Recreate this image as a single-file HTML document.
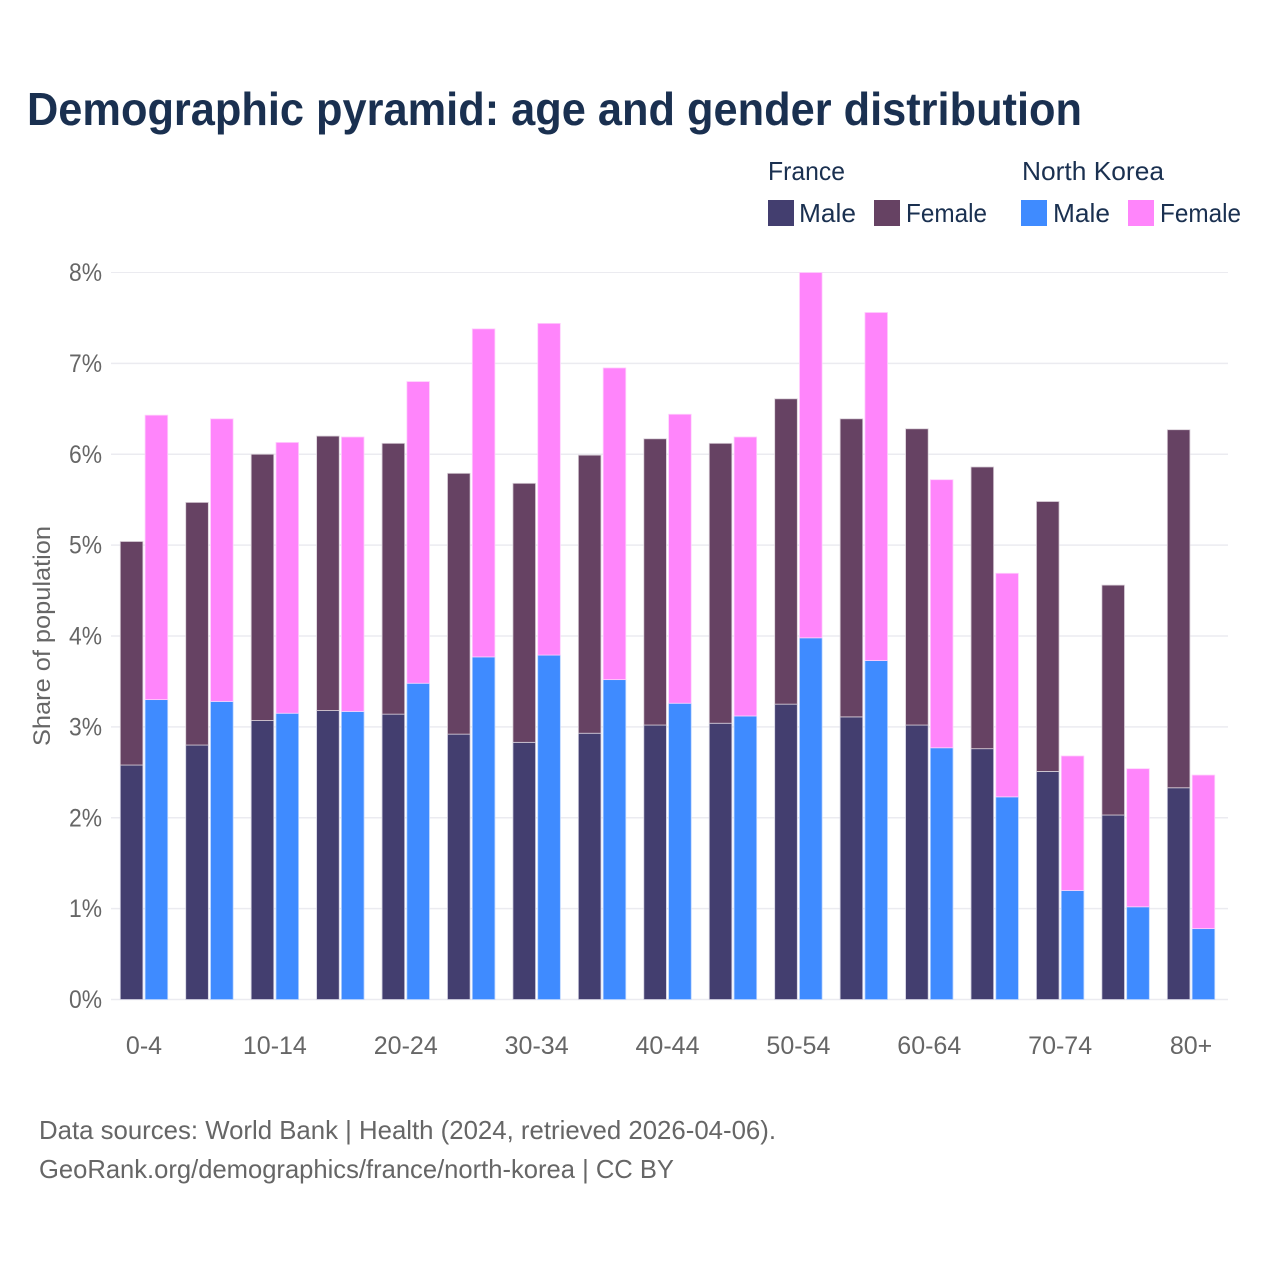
<!DOCTYPE html>
<html lang="en">
<head>
<meta charset="utf-8">
<title>Demographic pyramid: age and gender distribution</title>
<style>
html,body{margin:0;padding:0;background:#fff;width:1280px;height:1280px;overflow:hidden}
svg{display:block}
text{font-family:"Liberation Sans",sans-serif}
</style>
</head>
<body>
<svg id="chart" xmlns="http://www.w3.org/2000/svg" width="1280" height="1280" viewBox="0 0 1280 1280">
  <rect width="1280" height="1280" fill="#fff"/>
  <text x="27" y="125" font-size="46" font-weight="700" fill="#1a3050" textLength="1055" lengthAdjust="spacingAndGlyphs">Demographic pyramid: age and gender distribution</text>

  <g font-size="26" fill="#1a3050">
    <text x="768" y="180" textLength="77" lengthAdjust="spacingAndGlyphs">France</text>
    <rect x="768" y="200" width="26" height="26" fill="#433e6f"/>
    <text x="799" y="222" textLength="57" lengthAdjust="spacingAndGlyphs">Male</text>
    <rect x="874" y="200" width="26" height="26" fill="#664263"/>
    <text x="906" y="222" textLength="81" lengthAdjust="spacingAndGlyphs">Female</text>
    <text x="1022" y="180" textLength="142" lengthAdjust="spacingAndGlyphs">North Korea</text>
    <rect x="1021" y="200" width="26" height="26" fill="#3f8bff"/>
    <text x="1053" y="222" textLength="57" lengthAdjust="spacingAndGlyphs">Male</text>
    <rect x="1128" y="200" width="26" height="26" fill="#ff85fb"/>
    <text x="1160" y="222" textLength="81" lengthAdjust="spacingAndGlyphs">Female</text>
  </g>

  <g id="grid"></g>
  <g id="bars"></g>
  <g id="y-ticks"></g>
  <g id="x-ticks"></g>

  <text transform="translate(50,636) rotate(-90)" text-anchor="middle" font-size="24" fill="#666" textLength="220" lengthAdjust="spacingAndGlyphs">Share of population</text>

  <text x="39" y="1139" font-size="26" fill="#666" textLength="737" lengthAdjust="spacingAndGlyphs">Data sources: World Bank | Health (2024, retrieved 2026-04-06).</text>
  <text x="39" y="1178" font-size="26" fill="#666" textLength="635" lengthAdjust="spacingAndGlyphs">GeoRank.org/demographics/france/north-korea | CC BY</text>
</svg>
<script>
const categories = ["0-4","5-9","10-14","15-19","20-24","25-29","30-34","35-39","40-44","45-49","50-54","55-59","60-64","65-69","70-74","75-79","80+"];
const xTickLabels = ["0-4","10-14","20-24","30-34","40-44","50-54","60-64","70-74","80+"];
const yTicks = [0,1,2,3,4,5,6,7,8];
const franceMale = [2.58,2.80,3.07,3.18,3.14,2.92,2.83,2.93,3.02,3.04,3.25,3.11,3.02,2.76,2.51,2.03,2.33];
const franceFemale = [2.46,2.67,2.93,3.02,2.98,2.87,2.85,3.06,3.15,3.08,3.36,3.28,3.26,3.10,2.97,2.53,3.94];
const northKoreaMale = [3.30,3.28,3.15,3.17,3.48,3.77,3.79,3.52,3.26,3.12,3.98,3.73,2.77,2.23,1.20,1.02,0.78];
const northKoreaFemale = [3.13,3.11,2.98,3.02,3.32,3.61,3.65,3.43,3.18,3.07,4.02,3.83,2.95,2.46,1.48,1.52,1.69];

const NS = "http://www.w3.org/2000/svg";
const plotLeft = 111, plotRight = 1228, plotBottom = 999.5, plotTop = 272.5;
const yMax = 8;
const firstCenter = 144, groupStep = 65.44, barWidth = 22.6, barOffset = 24.8;

function yScale(v) { return plotBottom - (v / yMax) * (plotBottom - plotTop); }
function xScale(i) { return firstCenter + i * groupStep; }
function make(tag, attrs, parent) {
  const el = document.createElementNS(NS, tag);
  for (const k in attrs) el.setAttribute(k, attrs[k]);
  parent.appendChild(el);
  return el;
}

const gridG = document.getElementById("grid");
const yG = document.getElementById("y-ticks");
yTicks.forEach(function (t) {
  const line = make("line", {x1: plotLeft, x2: plotRight, y1: yScale(t), y2: yScale(t), stroke: "#ebebf0", "stroke-width": t === yMax ? 1 : 1.5}, gridG);
  
  
  const label = make("text", {x: 102, y: yScale(t) + 8.5, "text-anchor": "end", "font-size": 25, fill: "#666", textLength: 33, lengthAdjust: "spacingAndGlyphs"}, yG);
  label.textContent = t + "%";
  
  
});

const xG = document.getElementById("x-ticks");
categories.forEach(function (c, i) {
  if (xTickLabels.indexOf(c) < 0) return;
  const label = make("text", {x: xScale(i), y: 1054, "text-anchor": "middle", "font-size": 25, fill: "#666"}, xG);
  label.textContent = c;
  
  
});

const barsG = document.getElementById("bars");
function drawBar(i, base, value, offset, color, stroke) {
  const top = yScale(base + value), bottom = yScale(base);
  const bar = make("rect", {
    x: xScale(i) + offset - barWidth / 2,
    y: top,
    width: barWidth,
    height: bottom - top,
    fill: color,
    stroke: stroke,
    "stroke-width": 0.8
  }, barsG);
  
  
}
categories.forEach(function (c, i) {
  drawBar(i, 0, franceMale[i], -barOffset / 2, "#433e6f", "#d0cfe0");
  drawBar(i, franceMale[i], franceFemale[i], -barOffset / 2, "#664263", "#d9cfd8");
  drawBar(i, 0, northKoreaMale[i], barOffset / 2, "#3f8bff", "#b8d4ff");
  drawBar(i, northKoreaMale[i], northKoreaFemale[i], barOffset / 2, "#ff85fb", "#ffd0fd");
});
</script>
</body>
</html>
